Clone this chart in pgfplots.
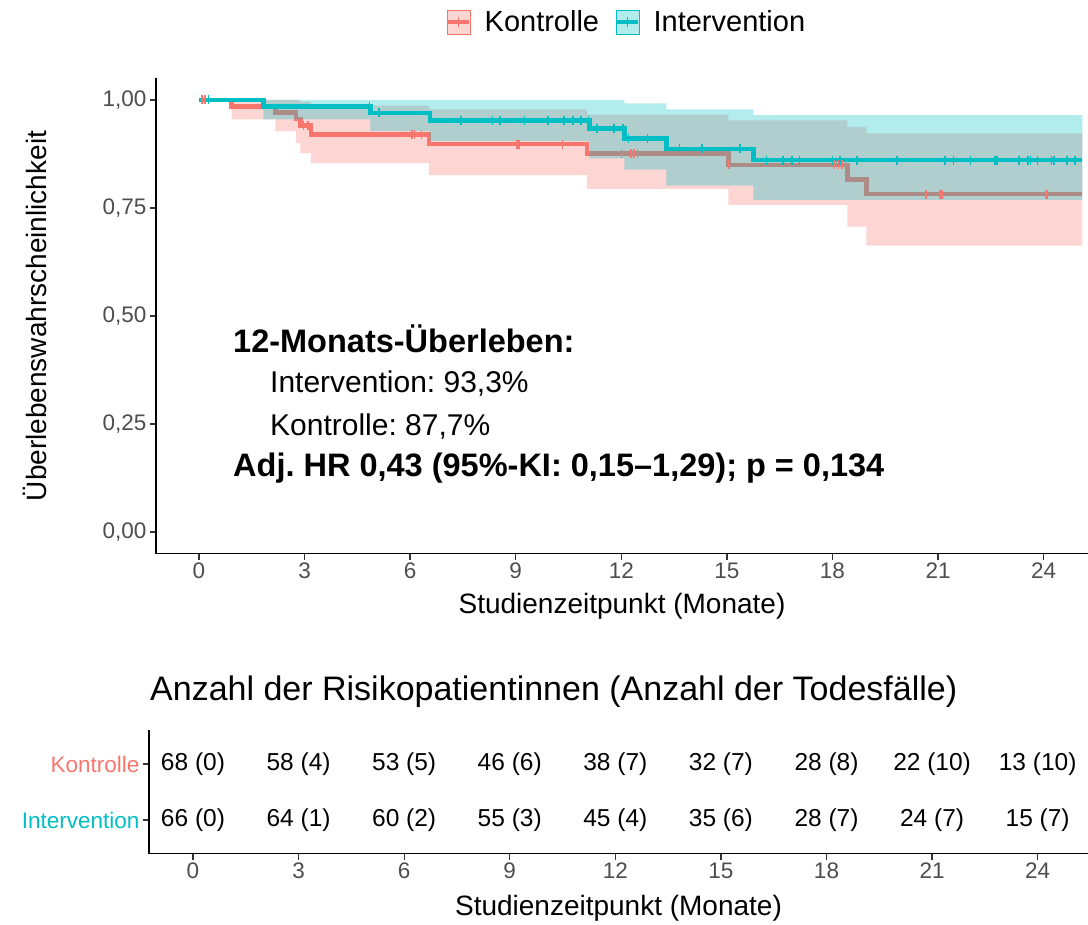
\documentclass[border=0pt]{standalone}
\usepackage{pgfplots}
\usepackage{pgfplotstable}
\pgfplotsset{compat=1.18}
\usepackage{fontspec}
\setmainfont{Liberation Sans}
\definecolor{kred}{HTML}{F8766D}
\definecolor{iteal}{HTML}{00BFC4}
\definecolor{tickgrey}{HTML}{4D4D4D}
\newcommand{\fs}[1]{\fontsize{#1}{#1}\selectfont}
\frenchspacing

% Kontrolle: time, survival
\pgfplotstableread{
t s
0 1.000
0.93 0.985
2.17 0.971
2.76 0.956
2.88 0.941
3.18 0.920
6.53 0.898
11.02 0.876
15.04 0.850
18.42 0.816
18.96 0.782
25.1 0.782
}\kon
% Kontrolle confidence band outline (upper forward, lower back)
\pgfplotstableread{
t b
0.93 1.000
2.88 1.000
2.88 0.995
3.18 0.995
3.18 0.987
6.53 0.987
6.53 0.978
11.02 0.978
11.02 0.966
15.04 0.966
15.04 0.953
18.42 0.953
18.42 0.938
18.96 0.938
18.96 0.923
25.1 0.923
25.1 0.663
18.96 0.663
18.96 0.707
18.42 0.707
18.42 0.757
15.04 0.757
15.04 0.794
11.02 0.794
11.02 0.826
6.53 0.826
6.53 0.854
3.18 0.854
3.18 0.877
2.88 0.877
2.88 0.900
2.76 0.900
2.76 0.928
2.17 0.928
2.17 0.955
0.93 0.955
}\konband
% Intervention
\pgfplotstableread{
t s
0 1.000
1.83 0.985
4.87 0.970
6.56 0.953
11.09 0.934
12.09 0.911
13.28 0.887
15.75 0.861
25.1 0.861
}\inte
\pgfplotstableread{
t b
1.83 1.000
12.09 1.000
12.09 0.992
13.28 0.992
13.28 0.978
15.75 0.978
15.75 0.965
25.1 0.965
25.1 0.769
15.75 0.769
15.75 0.802
13.28 0.802
13.28 0.839
12.09 0.839
12.09 0.865
11.09 0.865
11.09 0.905
6.56 0.905
6.56 0.928
4.87 0.928
4.87 0.955
1.83 0.955
}\inteband
% censored Kontrolle
\pgfplotstableread{
t s
0.08 1.000
0.18 1.000
2.97 0.941
3.10 0.941
6.06 0.920
6.13 0.920
6.32 0.920
9.03 0.898
9.10 0.898
10.33 0.898
12.01 0.876
12.27 0.876
12.36 0.876
12.46 0.876
15.06 0.850
18.06 0.850
18.17 0.850
18.27 0.850
20.66 0.782
21.04 0.782
21.08 0.782
21.12 0.782
24.05 0.782
24.10 0.782
}\konc
% censored Intervention
\pgfplotstableread{
t s
0.27 1.000
4.85 0.985
5.11 0.970
7.44 0.953
8.34 0.953
8.56 0.953
9.25 0.953
9.92 0.953
10.38 0.953
10.62 0.953
10.85 0.953
11.07 0.953
11.31 0.934
11.80 0.934
12.04 0.934
12.21 0.911
12.75 0.911
13.65 0.887
14.30 0.887
15.38 0.887
16.13 0.861
16.60 0.861
16.85 0.861
17.06 0.861
18.00 0.861
18.21 0.861
18.69 0.861
19.83 0.861
21.20 0.861
21.44 0.861
21.92 0.861
22.61 0.861
22.68 0.861
23.30 0.861
23.56 0.861
23.63 0.861
23.82 0.861
24.22 0.861
24.29 0.861
24.67 0.861
24.89 0.861
}\intec

\begin{document}
\begin{tikzpicture}
\path[use as bounding box] (0pt,0pt) rectangle (1088pt,925pt);
\begin{axis}[
  at={(156pt,371.4pt)}, anchor=south west, scale only axis,
  width=932pt, height=475.2pt,
  xmin=-1.22, xmax=25.26, ymin=-0.05, ymax=1.05,
  axis x line=bottom, axis y line=left,
  axis line style={-, line width=1.7pt, black},
  tick align=outside, major tick length=6pt,
  tick style={black!80, line width=1.3pt},
  xtick={0,3,...,24}, ytick={0,0.25,0.5,0.75,1},
  xticklabels={0,3,6,9,12,15,18,21,24},
  yticklabels={0{,}00,0{,}25,0{,}50,0{,}75,1{,}00},
  ticklabel style={font=\fs{22.5pt}, text=tickgrey},
  xlabel={Studienzeitpunkt (Monate)},
  ylabel={Überlebenswahrscheinlichkeit},
  label style={font=\fs{28pt}},
  xlabel style={at={(axis description cs:0.5,-0.11)}, anchor=center},
  ylabel style={at={(axis description cs:-0.13,0.5)}, anchor=center},
  legend columns=2,
  legend style={draw=none, fill=none, at={(0.505,1.119)}, anchor=center, font=\fs{29pt},
    /tikz/every odd column/.append style={column sep=11pt},
    /tikz/every even column/.append style={column sep=14pt}},
  legend cell align=left,
]
\addlegendimage{legend image code/.code={
  \fill[kred, fill opacity=0.3] (0pt,-12pt) rectangle (23pt,12pt);
  \draw[kred, line width=4.5pt] (1pt,0pt) -- (22pt,0pt);
  \draw[kred, line width=1pt] (11.5pt,-5pt) -- (11.5pt,5pt);}}
\addlegendimage{legend image code/.code={
  \fill[iteal, fill opacity=0.3] (0pt,-12pt) rectangle (23pt,12pt);
  \draw[iteal, line width=4.5pt] (1pt,0pt) -- (22pt,0pt);
  \draw[iteal, line width=1pt] (11.5pt,-5pt) -- (11.5pt,5pt);}}
\legend{Kontrolle, Intervention}

\addplot[fill=kred, fill opacity=0.3, draw=none, forget plot] table[x=t,y=b]{\konband} -- cycle;
\addplot[kred, line width=4.5pt, const plot, forget plot] table[x=t,y=s]{\kon};
\addplot[fill=iteal, fill opacity=0.3, draw=none, forget plot] table[x=t,y=b]{\inteband} -- cycle;
\addplot[iteal, line width=4.5pt, const plot, forget plot] table[x=t,y=s]{\inte};
\addplot[kred, only marks, mark=|, mark size=4.5pt, mark options={line width=1.6pt}, forget plot] table[x=t,y=s]{\konc};
\addplot[iteal, only marks, mark=|, mark size=4.5pt, mark options={line width=1.6pt}, forget plot] table[x=t,y=s]{\intec};
\end{axis}

% annotation
\node[anchor=base west, font=\fs{32.5pt}\bfseries, inner sep=0pt] at (233pt,572pt) {12-Monats-Überleben:};
\node[anchor=base west, font=\fs{30pt}, inner sep=0pt] at (270pt,532pt) {Intervention: 93,3\%};
\node[anchor=base west, font=\fs{30pt}, inner sep=0pt] at (270pt,489pt) {Kontrolle: 87,7\%};
\node[anchor=base west, font=\fs{32.5pt}\bfseries, inner sep=0pt] at (233pt,448pt) {Adj. HR 0,43 (95\%-KI: 0,15–1,29); p = 0,134};

% risk table title
\node[anchor=west, font=\fs{34pt}, inner sep=0pt] at (150pt,233pt) {Anzahl der Risikopatientinnen (Anzahl der Todesfälle)};

\begin{axis}[
  at={(149pt,71.4pt)}, anchor=south west, scale only axis,
  width=939pt, height=123.2pt,
  xmin=-1.25, xmax=25.43, ymin=0.4, ymax=2.6,
  axis x line=bottom, axis y line=left,
  axis line style={-, line width=1.7pt, black},
  tick align=outside, major tick length=6pt,
  tick style={black!80, line width=1.3pt},
  xtick={0,3,...,24}, ytick={1,2},
  xticklabels={0,3,6,9,12,15,18,21,24},
  yticklabels={\textcolor{iteal}{Intervention},\textcolor{kred}{Kontrolle}},
  xticklabel style={font=\fs{22.5pt}, text=tickgrey},
  yticklabel style={font=\fs{22.5pt}},
  xlabel={Studienzeitpunkt (Monate)},
  label style={font=\fs{28pt}},
  xlabel style={at={(axis description cs:0.5,-0.44)}, anchor=center},
  clip=false,
]
\addplot[only marks, mark=none, nodes near coords, point meta=explicit symbolic,
  nodes near coords style={anchor=center, font=\fs{24.5pt}, text=black}]
  table[meta=lab] {
t g lab
0 2 {68 (0)}
3 2 {58 (4)}
6 2 {53 (5)}
9 2 {46 (6)}
12 2 {38 (7)}
15 2 {32 (7)}
18 2 {28 (8)}
21 2 {22 (10)}
24 2 {13 (10)}
0 1 {66 (0)}
3 1 {64 (1)}
6 1 {60 (2)}
9 1 {55 (3)}
12 1 {45 (4)}
15 1 {35 (6)}
18 1 {28 (7)}
21 1 {24 (7)}
24 1 {15 (7)}
};
\end{axis}
\end{tikzpicture}
\end{document}
